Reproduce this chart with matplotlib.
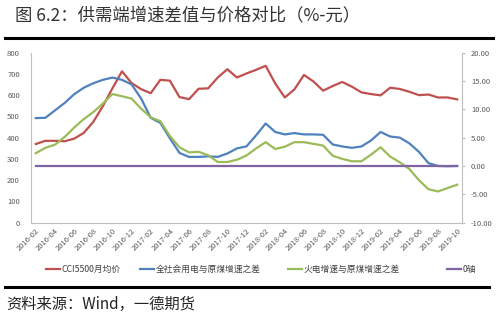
import numpy as np
import pandas as pd
import matplotlib
matplotlib.use('Agg')
import matplotlib.pyplot as plt
from matplotlib.lines import Line2D

plt.rcParams['font.family'] = ['Noto Sans CJK SC', 'DejaVu Sans']

# monthly categories 2016-02 .. 2019-10
months = [p.strftime('%Y-%m') for p in pd.period_range('2016-02', '2019-10', freq='M')]

# CCI5500 monthly average price (left axis, 元)
cci5500 = [370, 385, 385, 383, 395, 422, 474, 548, 632, 712,
           657, 628, 609, 672, 668, 591, 581, 630, 632, 683,
           722, 683, 702, 719, 738, 655, 589, 627, 695, 664,
           621, 643, 662, 640, 613, 605, 599, 635, 629, 616,
           600, 603, 589, 589, 580]

# growth differences (right axis, %)
power_all = [8.45, 8.5, 9.8, 11.1, 12.65, 13.8, 14.6, 15.2, 15.6, 15.2,
             14.4, 11.9, 8.5, 7.6, 4.9, 2.3, 1.6, 1.6, 1.7, 1.6,
             2.2, 3.1, 3.46, 5.4, 7.5, 6.0, 5.57, 5.8, 5.57, 5.57,
             5.5, 3.8, 3.44, 3.2, 3.44, 4.5, 6.0, 5.2, 5.0, 4.0,
             2.5, 0.5, 0.0, -0.05, 0.0]
thermal = [2.26, 3.2, 3.76, 5.1, 6.76, 8.26, 9.5, 11.0, 12.7, 12.3,
           11.9, 10.1, 8.6, 7.9, 5.3, 3.3, 2.4, 2.5, 1.9, 0.7,
           0.7, 1.1, 1.85, 3.1, 4.2, 3.0, 3.4, 4.2, 4.2, 3.9,
           3.6, 1.8, 1.25, 0.83, 0.83, 2.0, 3.3, 1.66, 0.65, -0.53,
           -2.5, -4.1, -4.5, -3.9, -3.3]
zero_axis = [0.0] * len(months)

labels = ['CCI5500月均价', '全社会用电与原煤增速之差', '火电增速与原煤增速之差', '0轴']
colors = ['#C0504D', '#4F81BD', '#9BBB59', '#8064A2']

fig = plt.figure(figsize=(5, 3.25), dpi=100)
ax = fig.add_axes([0.062, 0.315, 0.862, 0.523])
ax2 = ax.twinx()

x = np.arange(len(months))
lw = 1.6
h1, = ax.plot(x, cci5500, color=colors[0], lw=lw)
h2, = ax2.plot(x, power_all, color=colors[1], lw=lw)
h3, = ax2.plot(x, thermal, color=colors[2], lw=lw)
h4, = ax2.plot(x, zero_axis, color=colors[3], lw=lw)

ax.set_xlim(-0.5, len(months) - 0.5)
ax.set_ylim(0, 800)
ax.set_yticks(range(0, 801, 100))
ax2.set_ylim(-10, 20)
ax2.set_yticks(range(-10, 21, 5))
ax2.set_yticklabels([f'{v:.2f}' for v in range(-10, 21, 5)])

ax.set_xticks(x[::2])
ax.set_xticklabels(months[::2], rotation=45, ha='right', rotation_mode='anchor')

tc = '#595959'
for a in (ax, ax2):
    for s in a.spines.values():
        s.set_visible(False)
    a.tick_params(labelsize=5.5, colors=tc)
ax.spines['left'].set_visible(True)
ax.spines['bottom'].set_visible(True)
ax2.spines['right'].set_visible(True)
for s in (ax.spines['left'], ax.spines['bottom'], ax2.spines['right']):
    s.set_color('#BFBFBF')
    s.set_linewidth(0.8)
ax.tick_params(axis='y', length=0, pad=8)
ax.tick_params(axis='x', length=0, pad=3)
ax2.tick_params(axis='y', length=2.5, color='#BFBFBF', pad=4)

# one legend per entry, placed like the original
leg_x = [46, 140, 288, 447]
for h, lab, lx in zip([h1, h2, h3, h4], labels, leg_x):
    lg = fig.legend([h], [lab], loc='center left', bbox_to_anchor=(lx / 500, 0.171),
                    frameon=False, fontsize=6.3, handlelength=1.6,
                    handletextpad=0.2, borderpad=0, borderaxespad=0,
                    labelcolor='#404040')

fig.text(0.03, 0.953, '图 6.2：供需端增速差值与价格对比（%-元）', fontsize=12.5,
         color='#333333', va='center', ha='left')
fig.text(0.012, 0.064, '资料来源：Wind，一德期货', fontsize=11,
         color='#222222', va='center', ha='left')

fig.add_artist(Line2D([0.01, 0.985], [1 - 37.7 / 325] * 2, color='black', lw=2.2,
                      transform=fig.transFigure))
fig.add_artist(Line2D([0.01, 0.977], [1 - 286.7 / 325] * 2, color='black', lw=2.2,
                      transform=fig.transFigure))

fig.savefig('out.png', dpi=100, facecolor='white')
